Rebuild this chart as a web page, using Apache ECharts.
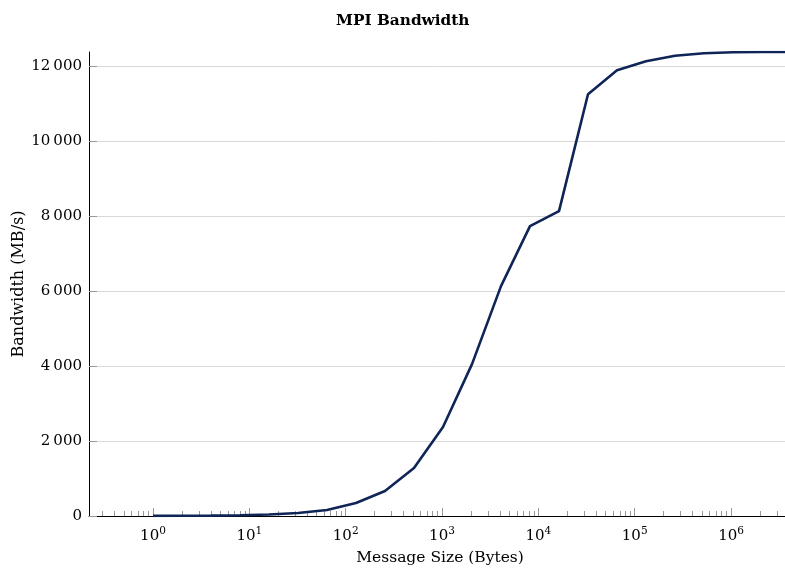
<!DOCTYPE html>
<html>
<head>
<meta charset="utf-8">
<script src="https://cdn.jsdelivr.net/npm/echarts@6/dist/echarts.min.js"></script>
<style>html,body{margin:0;padding:0;background:#fff}#c{width:785px;height:577px}</style>
</head>
<body>
<div id="c"></div>
<script>
var messageSizes = [1, 2, 4, 8, 16, 32, 64, 128, 256, 512, 1024, 2048, 4096, 8192, 16384, 32768, 65536, 131072, 262144, 524288, 1048576, 2097152, 4194304];
var bandwidth = [2.5, 5, 10, 20, 40, 80, 160, 347, 667, 1280, 2373, 4053, 6133, 7733, 8133, 11253, 11893, 12133, 12280, 12347, 12373, 12378, 12380];
var majorTicks = [1, 10, 100, 1000, 10000, 100000, 1000000];
var yTicks = [0, 2000, 4000, 6000, 8000, 10000, 12000];
var minorTicks = [];
for (var d = -1; d <= 6; d++) {
  for (var k = 2; k <= 9; k++) {
    var v = k * Math.pow(10, d);
    if (v > 0.2166 && v < 4194304) minorTicks.push(v);
  }
}
var FONT = 'DejaVu Serif';
var chart = echarts.init(document.getElementById('c'));
var xMin = 0.2166, xMax = 4194304;
chart.setOption({
  animation: false,
  title: {
    text: 'MPI Bandwidth', left: 331, top: 9,
    textStyle: {fontFamily: FONT, fontWeight: 'bold', fontSize: 15.3, color: '#000'}
  },
  grid: {left: 89, width: 702, top: 52, bottom: 61, containLabel: false, outerBoundsMode: 'none'},
  xAxis: [{
    type: 'log', logBase: 10, min: xMin, max: xMax, position: 'bottom',
    name: 'Message Size (Bytes)', nameLocation: 'middle', nameGap: 34, nameMoveOverlap: false,
    nameTextStyle: {fontFamily: FONT, fontSize: 15.5, color: '#000'},
    axisLine: {show: true, lineStyle: {color: '#000', width: 1}},
    axisTick: {show: true, inside: true, length: 8, customValues: majorTicks, lineStyle: {color: '#999'}},
    axisLabel: {
      customValues: majorTicks, margin: 10,
      formatter: function (v) { return '{b|10}{s|' + Math.round(Math.log10(v)) + '}'; },
      rich: {
        b: {fontFamily: FONT, fontSize: 15, color: '#000'},
        s: {fontFamily: FONT, fontSize: 10.5, color: '#000', padding: [0, 0, 10, 0]}
      }
    },
    splitLine: {show: false}
  }, {
    type: 'log', logBase: 10, min: xMin, max: xMax, position: 'bottom', offset: 0,
    axisLine: {show: false},
    axisTick: {show: true, inside: true, length: 5, customValues: minorTicks, lineStyle: {color: '#999'}},
    axisLabel: {show: false},
    splitLine: {show: false}
  }],
  yAxis: {
    type: 'value', min: 0, max: 12380, interval: 2000,
    name: 'Bandwidth (MB/s)', nameLocation: 'middle', nameGap: 62, nameMoveOverlap: false,
    nameTextStyle: {fontFamily: FONT, fontSize: 16, color: '#000'},
    axisLine: {show: true, lineStyle: {color: '#000', width: 1}},
    axisTick: {show: true, inside: true, length: 8, customValues: yTicks, lineStyle: {color: '#999'}},
    axisLabel: {
      customValues: yTicks, margin: 7,
      fontFamily: FONT, fontSize: 15, color: '#000',
      formatter: function (v) { return v >= 1000 ? Math.floor(v / 1000) + '\u2009' + ('00' + (v % 1000)).slice(-3) : String(v); }
    },
    splitLine: {show: true, lineStyle: {color: '#d9d9d9', width: 1}}
  },
  series: [{
    type: 'line', xAxisIndex: 0,
    data: messageSizes.map(function (s, i) { return [s, bandwidth[i]]; }),
    showSymbol: false, symbol: 'none',
    lineStyle: {color: '#0f2557', width: 2.6},
    clip: true
  }]
});
</script>
</body>
</html>
